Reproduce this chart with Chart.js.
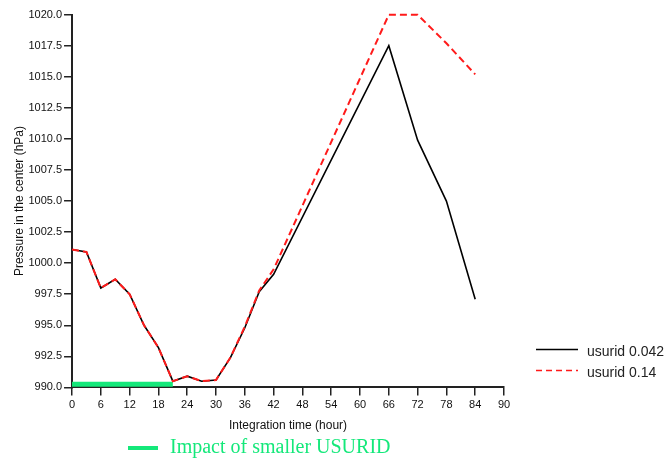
<!DOCTYPE html>
<html>
<head>
<meta charset="utf-8">
<script src="https://cdn.jsdelivr.net/npm/chart.js@4/dist/chart.umd.min.js"></script>
<style>
  body { margin: 0; background: #fff; }
  #wrap { position: relative; width: 671px; height: 458px; }
  #chart { position: absolute; left: 0; top: 0; }
  .lg { position: absolute; font-family: "Liberation Sans", Arial, sans-serif; font-size: 14px; line-height: 14px; color: #222; white-space: nowrap; }
  .note { position: absolute; font-family: "Liberation Serif", "Times New Roman", serif; font-size: 20px; line-height: 20px; color: #14e87a; white-space: nowrap; }
  svg { position: absolute; left: 0; top: 0; }
</style>
</head>
<body>
<div id="wrap">
  <canvas id="chart" width="671" height="458"></canvas>
  <svg width="671" height="458">
    <line x1="536" y1="349.5" x2="578" y2="349.5" stroke="#000" stroke-width="1.5"/>
    <line x1="536" y1="370.5" x2="578" y2="370.5" stroke="#ff1a1a" stroke-width="1.5" stroke-dasharray="6,4"/>
    <line x1="128" y1="448" x2="158" y2="448" stroke="#14e87a" stroke-width="4"/>
  </svg>
  <div class="lg" style="left:587px; top:344px;">usurid 0.042</div>
  <div class="lg" style="left:587px; top:365px;">usurid 0.14</div>
  <div class="note" style="left:170px; top:436px;">Impact of smaller USURID</div>
</div>
<script>
// 數據
var hoursBlack = [0, 3, 6, 9, 12, 15, 18, 21, 24, 27, 30, 33, 36, 39, 42, 66, 72, 78, 84];
var pressBlack = [1001.1, 1000.9, 998.0, 998.7, 997.5, 995.0, 993.2, 990.5, 990.9, 990.5, 990.6, 992.4, 994.8, 997.7, 999.1, 1017.5, 1009.9, 1005.0, 997.1];
var hoursRed = [0, 3, 6, 9, 12, 15, 18, 21, 24, 27, 30, 33, 36, 39, 42, 66, 72, 78, 84];
var pressRed = [1001.1, 1000.9, 998.0, 998.7, 997.5, 995.0, 993.2, 990.5, 990.9, 990.5, 990.6, 992.4, 994.9, 997.8, 999.5, 1020.0, 1020.0, 1017.7, 1015.2];
var hoursGreen = [0, 21];
var pressGreen = [990.25, 990.25];
var seriesNames = ['usurid 0.042', 'usurid 0.14'];

function toPoints(xs, ys) {
  return xs.map(function (x, i) { return { x: x, y: ys[i] }; });
}

var tickFont = { family: 'Liberation Sans', size: 11 };
var titleFont = { family: 'Liberation Sans', size: 12 };

var ctx = document.getElementById('chart');
new Chart(ctx, {
  type: 'line',
  data: {
    datasets: [
      {
        label: seriesNames[0],
        data: toPoints(hoursBlack, pressBlack),
        borderColor: '#000',
        borderWidth: 1.6,
        pointRadius: 0,
        tension: 0,
        order: 1
      },
      {
        label: seriesNames[1],
        data: toPoints(hoursRed, pressRed),
        borderColor: '#ff1a1a',
        borderWidth: 2,
        borderDash: [7, 4],
        pointRadius: 0,
        tension: 0,
        order: 0
      },
      {
        label: 'impact',
        data: toPoints(hoursGreen, pressGreen),
        borderColor: '#14e87a',
        borderWidth: 5,
        pointRadius: 0,
        order: 2
      }
    ]
  },
  options: {
    responsive: false,
    animation: false,
    clip: false,
    layout: { padding: { top: 14.7, right: 167, bottom: 23, left: 6 } },
    plugins: {
      legend: { display: false },
      tooltip: { enabled: false }
    },
    scales: {
      x: {
        type: 'linear',
        min: 0,
        max: 90,
        ticks: { stepSize: 6, color: '#111', font: tickFont, padding: 3 },
        grid: { drawOnChartArea: false, tickLength: 8, color: '#222', lineWidth: 1.5 },
        border: { color: '#222', width: 2 },
        title: { display: true, text: 'Integration time (hour)', color: '#111', font: titleFont, padding: { top: 4, bottom: 2 } }
      },
      y: {
        min: 990,
        max: 1020,
        ticks: {
          stepSize: 2.5,
          color: '#111',
          font: tickFont,
          padding: 2,
          callback: function (v) { return v.toFixed(1); }
        },
        grid: { drawOnChartArea: false, tickLength: 8, color: '#222', lineWidth: 1.5 },
        border: { color: '#222', width: 2 },
        title: { display: true, text: 'Pressure in the center (hPa)', color: '#111', font: titleFont, padding: { top: 6, bottom: 0 } }
      }
    }
  }
});
</script>
</body>
</html>
